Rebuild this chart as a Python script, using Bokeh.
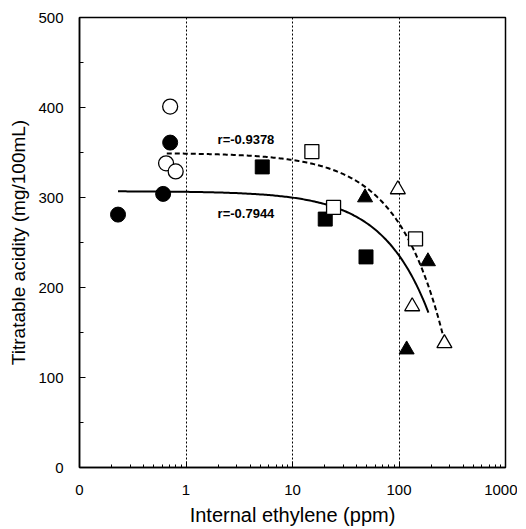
from bokeh.plotting import figure
from bokeh.models import FixedTicker, CustomJSTickFormatter, Label
from bokeh.embed import file_html
from bokeh.resources import INLINE
import numpy as np

# --- data ---
filled_circle_x = [0.23, 0.61, 0.71]
filled_circle_y = [281, 304, 361]
open_circle_x = [0.71, 0.65, 0.80]
open_circle_y = [401, 338, 329]
filled_square_x = [5.2, 20.3, 49.0]
filled_square_y = [334, 276, 234]
open_square_x = [15.2, 24.3, 143.0]
open_square_y = [351, 289, 254]
filled_tri_x = [48.0, 187.0, 118.0]
filled_tri_y = [300, 229, 131]
open_tri_x = [97.5, 133.0, 267.0]
open_tri_y = [309, 179, 138]

# linear regression lines (y = a + b*x)
solid_fit = dict(a=307.0, b=-0.714, x0=0.23, x1=189.0, label="r=-0.7944")
dashed_fit = dict(a=349.5, b=-0.783, x0=0.66, x1=258.0, label="r=-0.9378")

major_ticks = [0.1, 1, 10, 100, 1000]
y_ticks = [0, 100, 200, 300, 400, 500]

FONT = "Liberation Sans"

p = figure(frame_width=426, frame_height=450, x_axis_type="log",
           x_range=(0.1, 1000), y_range=(0, 500),
           output_backend="svg", toolbar_location=None,
           min_border_left=79, min_border_right=12,
           min_border_top=17, min_border_bottom=49)
p.background_fill_color = "white"
p.border_fill_color = "white"
p.outline_line_color = "black"
p.outline_line_width = 1.5

# fit lines
for fit, dash in ((solid_fit, "solid"), (dashed_fit, "5 3")):
    xs = np.geomspace(fit["x0"], fit["x1"], 200)
    ys = fit["a"] + fit["b"] * xs
    p.line(xs, ys, line_color="black", line_width=2, line_dash=dash)

# markers
p.scatter(filled_circle_x, filled_circle_y, marker="circle", size=15,
          fill_color="black", line_color="black")
p.scatter(open_circle_x, open_circle_y, marker="circle", size=15,
          fill_color="white", line_color="black", line_width=1.3)
p.scatter(filled_square_x, filled_square_y, marker="square", size=14,
          fill_color="black", line_color="black")
p.scatter(open_square_x, open_square_y, marker="square", size=14,
          fill_color="white", line_color="black", line_width=1.3)
p.scatter(filled_tri_x, filled_tri_y, marker="triangle", size=15,
          fill_color="black", line_color="black")
p.scatter(open_tri_x, open_tri_y, marker="triangle", size=15,
          fill_color="white", line_color="black", line_width=1.3)

# r labels
p.add_layout(Label(x=1.98, y=365, text=dashed_fit["label"], text_font=FONT,
                   text_font_size="13px", text_font_style="bold",
                   text_color="black",
                   text_baseline="middle", text_align="left"))
p.add_layout(Label(x=1.98, y=282, text=solid_fit["label"], text_font=FONT,
                   text_font_size="13px", text_font_style="bold",
                   text_color="black",
                   text_baseline="middle", text_align="left"))

# grid
p.ygrid.grid_line_color = None
p.xgrid.ticker = FixedTicker(ticks=[1, 10, 100])
p.xgrid.grid_line_color = "black"
p.xgrid.grid_line_dash = "2 2"
p.xgrid.grid_line_width = 1

# x axis
minor = [m * 10.0 ** e for e in range(-1, 3) for m in range(2, 10)]
xa = p.xaxis[0]
xa.ticker = FixedTicker(ticks=major_ticks, minor_ticks=minor)
xa.formatter = CustomJSTickFormatter(code="return tick < 0.5 ? '0' : tick.toFixed(0);")
xa.axis_label = "Internal ethylene (ppm)"
xa.major_tick_in = 6
xa.major_tick_out = 0
xa.minor_tick_in = 3
xa.minor_tick_out = 0
xa.major_label_standoff = 17
xa.axis_label_standoff = 6

# y axis
ya = p.yaxis[0]
ya.ticker = FixedTicker(ticks=y_ticks, minor_ticks=[50, 150, 250, 350, 450])
ya.axis_label = "Titratable acidity (mg/100mL)"
ya.major_tick_in = 6
ya.major_tick_out = 0
ya.minor_tick_in = 4
ya.minor_tick_out = 0
ya.major_label_standoff = 16
ya.axis_label_standoff = 6

for ax in (xa, ya):
    ax.axis_line_color = "black"
    ax.axis_line_width = 1.5
    ax.major_tick_line_color = "black"
    ax.minor_tick_line_color = "black"
    ax.major_label_text_font = FONT
    ax.major_label_text_color = "black"
    ax.axis_label_text_font = FONT
    ax.axis_label_text_font_style = "normal"
    ax.axis_label_text_color = "black"
xa.major_label_text_font_size = "15px"
ya.major_label_text_font_size = "15px"
xa.axis_label_text_font_size = "20px"
ya.axis_label_text_font_size = "19px"

open("out.html", "w").write(file_html(p, INLINE))
